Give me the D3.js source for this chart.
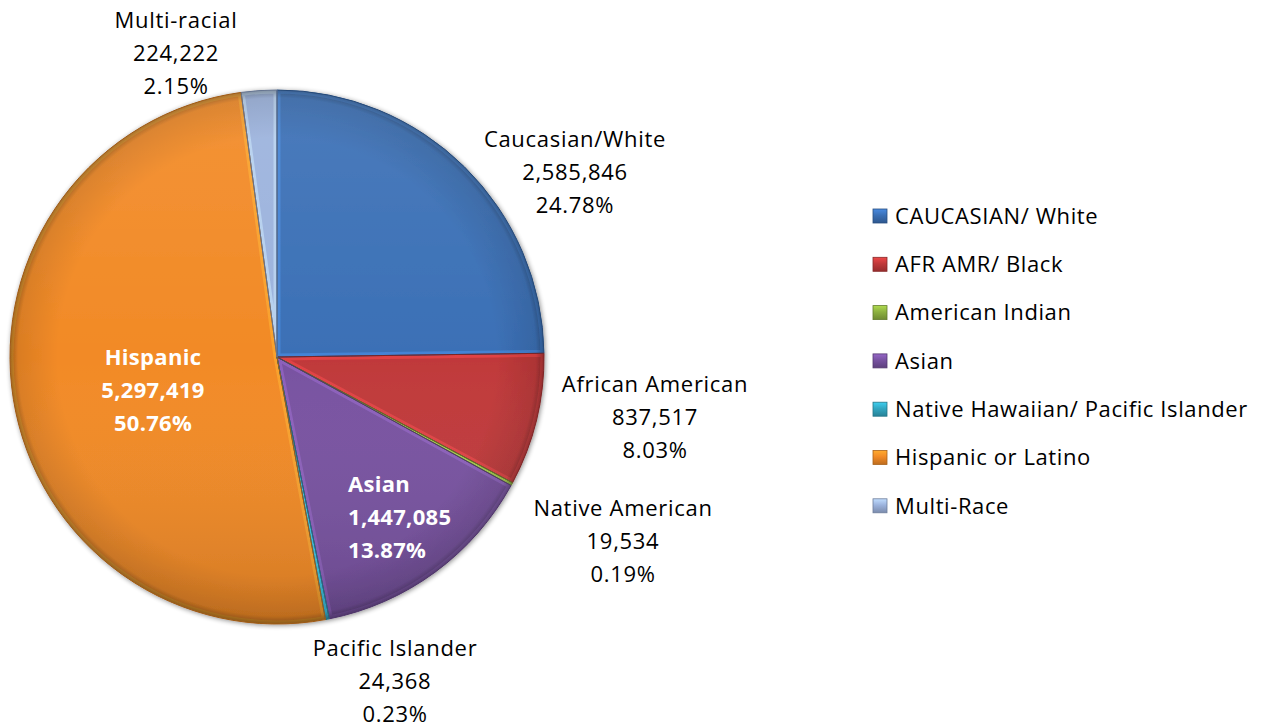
<!DOCTYPE html>
<html>
<head>
<meta charset="utf-8">
<script src="https://cdn.jsdelivr.net/npm/d3@7"></script>
<style>
  html, body { margin: 0; padding: 0; background: #ffffff; }
  svg { display: block; }
  text { font-family: "Open Sans", Lato, sans-serif; fill: #000; }
</style>
</head>
<body>
<svg id="chart" width="1269" height="728"></svg>
<script>
// Population by race / ethnicity
const legendNames = ["CAUCASIAN/ White", "AFR AMR/ Black", "American Indian", "Asian",
                     "Native Hawaiian/ Pacific Islander", "Hispanic or Latino", "Multi-Race"];
const sliceLabels = ["Caucasian/White", "African American", "Native American", "Asian",
                     "Pacific Islander", "Hispanic", "Multi-racial"];
const values = [2585846, 837517, 19534, 1447085, 24368, 5297419, 224222];
const colors = ["#3b70b6", "#c0393a", "#8db140", "#7852a1", "#32a7c2", "#f28a26", "#9cb3dd"];

// Label placement (anchor x, first line y, text-anchor, inside-slice flag)
const labelLayout = [
  { x: 575, y: 139, anchor: "middle", inside: false },
  { x: 655, y: 384, anchor: "middle", inside: false },
  { x: 623, y: 508, anchor: "middle", inside: false },
  { x: 348, y: 484, anchor: "start",  inside: true  },
  { x: 395, y: 648, anchor: "middle", inside: false },
  { x: 153, y: 357, anchor: "middle", inside: true  },
  { x: 176, y: 20,  anchor: "middle", inside: false }
];

const svg = d3.select("#chart");
const cx = 277, cy = 357, R = 267;
const total = d3.sum(values);
const fmtNum = d3.format(",");
const fmtPct = d3.format(".2%");

const data = values.map((v, i) => ({ name: legendNames[i], label: sliceLabels[i], value: v, color: colors[i], i }));

const defs = svg.append("defs");

// soft shadow around the pie
const shadow = defs.append("filter").attr("id", "pieShadow")
  .attr("x", "-10%").attr("y", "-10%").attr("width", "120%").attr("height", "120%");
shadow.append("feGaussianBlur").attr("in", "SourceAlpha").attr("stdDeviation", 2.5).attr("result", "b");
shadow.append("feOffset").attr("in", "b").attr("dx", 1).attr("dy", 1).attr("result", "o");
shadow.append("feComponentTransfer").attr("in", "o").attr("result", "s")
  .append("feFuncA").attr("type", "linear").attr("slope", 0.45);
const merge = shadow.append("feMerge");
merge.append("feMergeNode").attr("in", "s");
merge.append("feMergeNode").attr("in", "SourceGraphic");

// rim shading and vertical sheen, in pie-local coordinates
const rimLocal = defs.append("radialGradient").attr("id", "rimShadeLocal")
  .attr("cx", 0.5).attr("cy", 0.5).attr("r", 0.5);
rimLocal.append("stop").attr("offset", "0.82").attr("stop-color", "#000").attr("stop-opacity", 0);
rimLocal.append("stop").attr("offset", "0.97").attr("stop-color", "#000").attr("stop-opacity", 0.10);
rimLocal.append("stop").attr("offset", "1").attr("stop-color", "#000").attr("stop-opacity", 0.35);

const sheenLocal = defs.append("linearGradient").attr("id", "sheenLocal")
  .attr("x1", 0).attr("y1", 0).attr("x2", 0).attr("y2", 1);
sheenLocal.append("stop").attr("offset", "0").attr("stop-color", "#fff").attr("stop-opacity", 0.08);
sheenLocal.append("stop").attr("offset", "0.5").attr("stop-color", "#fff").attr("stop-opacity", 0);
sheenLocal.append("stop").attr("offset", "1").attr("stop-color", "#000").attr("stop-opacity", 0.14);

const pie = d3.pie().sort(null).value(d => d.value).startAngle(0).endAngle(2 * Math.PI);
const arcs = pie(data);
const arc = d3.arc().innerRadius(0).outerRadius(R);

const g = svg.append("g").attr("transform", `translate(${cx},${cy})`);
const pieGroup = g.append("g").attr("filter", "url(#pieShadow)");

arcs.forEach((a, k) => {
  defs.append("clipPath").attr("id", "clip" + k)
    .append("path").attr("d", arc(a));
});

const slices = pieGroup.selectAll("g.slice").data(arcs).join("g").attr("class", "slice");

slices.append("path")
  .attr("d", arc)
  .attr("fill", d => d.data.color);

// bevel highlight along slice edges
slices.append("path")
  .attr("d", arc)
  .attr("fill", "none")
  .attr("stroke", d => d3.color(d.data.color).brighter(0.8))
  .attr("stroke-width", 7)
  .attr("stroke-opacity", 0.5)
  .attr("clip-path", (d, k) => `url(#clip${k})`);

const overlay = pieGroup.append("g");
overlay.append("circle").attr("r", R).attr("fill", "url(#rimShadeLocal)");
overlay.append("circle").attr("r", R).attr("fill", "url(#sheenLocal)");

// thin dark edges between slices
pieGroup.append("g").selectAll("path").data(arcs).join("path")
  .attr("d", arc)
  .attr("fill", "none")
  .attr("stroke", d => d3.color(d.data.color).darker(1.2))
  .attr("stroke-width", 1)
  .attr("stroke-linejoin", "round");

// data labels
const labels = svg.append("g");
arcs.forEach((a, k) => {
  const L = labelLayout[k];
  const d = a.data;
  const lines = [d.label, fmtNum(d.value), fmtPct(d.value / total)];
  const t = labels.append("text")
    .attr("text-anchor", L.anchor)
    .style("font-size", "22px")
    .style("letter-spacing", L.inside ? "0.3px" : "0.7px")
    .style("font-weight", L.inside ? "700" : "400")
    .style("fill", L.inside ? "#ffffff" : "#000000");
  lines.forEach((s, j) => {
    t.append("tspan").attr("x", L.x).attr("y", L.y + j * 33).attr("dy", "0.35em").text(s);
  });
});

// legend
const legend = svg.append("g").attr("transform", "translate(873,216)");
const rowH = 48.3;
const items = legend.selectAll("g").data(data).join("g")
  .attr("transform", (d, i) => `translate(0,${i * rowH})`);

data.forEach((d, i) => {
  const lg = defs.append("linearGradient").attr("id", "lg" + i).attr("x1", 0).attr("y1", 0).attr("x2", 0).attr("y2", 1);
  lg.append("stop").attr("offset", "0").attr("stop-color", d3.color(d.color).brighter(0.6));
  lg.append("stop").attr("offset", "0.45").attr("stop-color", d.color);
  lg.append("stop").attr("offset", "1").attr("stop-color", d3.color(d.color).darker(0.7));
});

items.append("rect")
  .attr("x", 0).attr("y", -7).attr("width", 14).attr("height", 14)
  .attr("fill", (d, i) => `url(#lg${i})`)
  .attr("stroke", d => d3.color(d.color).darker(1))
  .attr("stroke-width", 0.8);

items.append("text")
  .attr("x", 22).attr("y", 0).attr("dy", "0.35em")
  .style("font-size", "22px")
  .style("letter-spacing", "0.6px")
  .text(d => d.name);
</script>
</body>
</html>
